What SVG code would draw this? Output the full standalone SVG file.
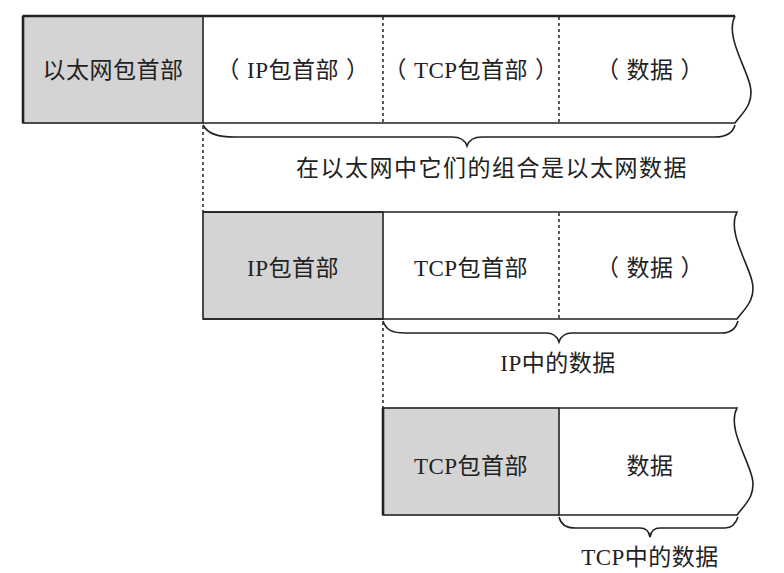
<svg xmlns="http://www.w3.org/2000/svg" width="784" height="573" viewBox="0 0 784 573">
<style>
.bg{fill:#fff}
.gray{fill:#d4d4d4;stroke:#222;stroke-width:1.6}
.edge{fill:none;stroke:#222;stroke-width:1.6}
.thick{fill:none;stroke:#222;stroke-width:2.6}
.dot{fill:none;stroke:#222;stroke-width:1.5;stroke-dasharray:3 3}
.brace{fill:none;stroke:#222;stroke-width:1.6}
text{font-family:"Liberation Serif","Noto Sans CJK SC",serif;font-size:23px;fill:#222;text-anchor:middle;letter-spacing:0.5px}
.w{letter-spacing:1.5px}
</style>
<rect class="bg" width="784" height="573"/>
<g id="frame1">
<rect class="gray" x="23" y="16" width="180" height="107"/>
<path class="edge" d="M203,123 H735 C740,115 755,105 750,85 C745,65 725,35 735,16"/>
<path class="thick" d="M23,16 H735 M23,16 V123"/>
<path class="dot" d="M383,17 V122 M559,17 V122"/>
<text x="113" y="78">以太网包首部</text>
<text x="293" y="78">（<tspan dx="7">IP包首部</tspan><tspan dx="7">）</tspan></text>
<text x="471" y="78">（<tspan dx="7">TCP包首部</tspan><tspan dx="7">）</tspan></text>
<text x="650" y="78">（<tspan dx="7">数据</tspan><tspan dx="7">）</tspan></text>
</g>
<g id="frame2">
<rect class="gray" x="203" y="212" width="180" height="107"/>
<path class="edge" d="M203,212 H737 C727,231 747,261 752,281 C757,301 742,311 737,319 H203"/>
<path class="dot" d="M559,213 V318"/>
<text x="293" y="276">IP包首部</text>
<text x="471" y="276">TCP包首部</text>
<text x="650" y="276">（<tspan dx="7">数据</tspan><tspan dx="7">）</tspan></text>
</g>
<g id="frame3">
<rect class="gray" x="383" y="408" width="176" height="107"/>
<path class="edge" d="M559,408 H737 C727,427 747,457 752,477 C757,497 742,507 737,515 H559"/>
<path class="thick" d="M383,408 V515"/>
<text x="471" y="474">TCP包首部</text>
<text x="650" y="474">数据</text>
</g>
<g id="connectors">
<path class="dot" d="M203,126 V212 M383,322 V408"/>
<path class="brace" d="M203,125 C208,134 218,137 235,137 H452 C460,137 465,140 467,146 C469,140 474,137 482,137 H715 C727,137 733,132 735,125"/>
<path class="brace" d="M383,321 C386,330 392,333 405,333 H546 C553,333 557,336 559,342 C561,336 565,333 572,333 H722 C732,333 736,328 738,321"/>
<path class="brace" d="M559,517 C561,525 566,528 575,528 H640 C646,528 649,531 650,537 C651,531 654,528 660,528 H725 C733,528 736,523 738,517"/>
</g>
<g id="labels">
<text class="w" x="492" y="176">在以太网中它们的组合是以太网数据</text>
<text x="558" y="371">IP中的数据</text>
<text x="650" y="565">TCP中的数据</text>
</g>
</svg>
